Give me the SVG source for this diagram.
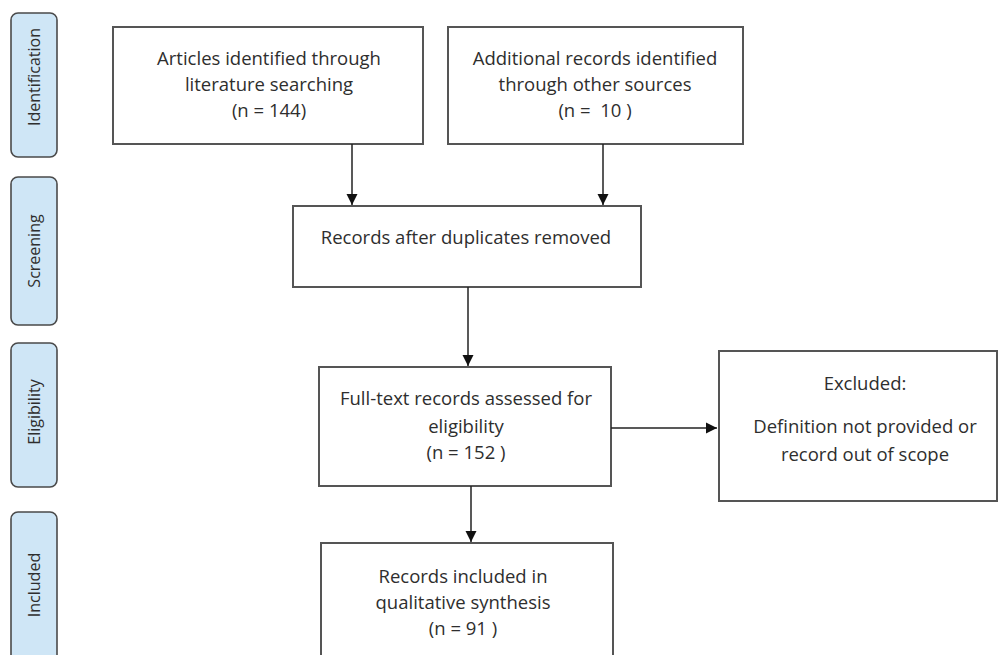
<svg xmlns="http://www.w3.org/2000/svg" width="998" height="655" viewBox="0 0 998 655">
<style>
.tab{fill:#cfe6f6;stroke:#4a4a4a;stroke-width:1.6}
.box{fill:#fff;stroke:#555;stroke-width:2}
.t{font-family:"Open Sans","Liberation Sans",sans-serif;font-size:18.5px;fill:#2e2e2e;text-anchor:middle;white-space:pre}
.tt{font-family:"Open Sans","Liberation Sans",sans-serif;font-size:16px;fill:#2e2e2e;text-anchor:middle}
.c{stroke:#222;stroke-width:1.5;fill:none}
</style>
<defs>
<marker id="ah" markerWidth="12" markerHeight="12" refX="11" refY="6" orient="auto" markerUnits="userSpaceOnUse">
<path d="M0,0.5 L11,6 L0,11.5 Z" fill="#111"/>
</marker>
</defs>
<rect width="998" height="655" fill="#fff"/>
<g id="tab-identification"><rect class="tab" x="11" y="13" width="46" height="144" rx="7"/><text class="tt" transform="translate(40,77) rotate(-90)">Identification</text></g>
<g id="tab-screening"><rect class="tab" x="11" y="177" width="46" height="148" rx="7"/><text class="tt" transform="translate(40,251) rotate(-90)">Screening</text></g>
<g id="tab-eligibility"><rect class="tab" x="11" y="343" width="46" height="144" rx="7"/><text class="tt" transform="translate(40,412) rotate(-90)">Eligibility</text></g>
<g id="tab-included"><rect class="tab" x="11" y="512" width="46" height="160" rx="7"/><text class="tt" transform="translate(40,585) rotate(-90)">Included</text></g>
<g id="n1"><rect class="box" x="113" y="27" width="310" height="117"/>
<text class="t" x="269" y="65">Articles identified through</text>
<text class="t" x="269" y="91">literature searching</text>
<text class="t" x="269" y="117">(n = 144)</text></g>
<g id="n2"><rect class="box" x="448" y="27" width="295" height="117"/>
<text class="t" x="595" y="65">Additional records identified</text>
<text class="t" x="595" y="91">through other sources</text>
<text class="t" x="595" y="117" xml:space="preserve">(n =  10 )</text></g>
<g id="n3"><rect class="box" x="293" y="206" width="348" height="81"/>
<text class="t" x="466" y="244">Records after duplicates removed</text></g>
<g id="n4"><rect class="box" x="319" y="367" width="292" height="119"/>
<text class="t" x="466" y="405">Full-text records assessed for</text>
<text class="t" x="466" y="433">eligibility</text>
<text class="t" x="466" y="459">(n = 152 )</text></g>
<g id="n5"><rect class="box" x="719" y="351" width="278" height="150"/>
<text class="t" x="865" y="390">Excluded:</text>
<text class="t" x="865" y="433">Definition not provided or</text>
<text class="t" x="865" y="461">record out of scope</text></g>
<g id="n6"><rect class="box" x="321" y="543" width="292" height="130"/>
<text class="t" x="463" y="583">Records included in</text>
<text class="t" x="463" y="609">qualitative synthesis</text>
<text class="t" x="463" y="635">(n = 91 )</text></g>
<g id="connectors">
<line class="c" x1="352" y1="144" x2="352" y2="205" marker-end="url(#ah)"/>
<line class="c" x1="603" y1="144" x2="603" y2="205" marker-end="url(#ah)"/>
<line class="c" x1="468" y1="287" x2="468" y2="366" marker-end="url(#ah)"/>
<line class="c" x1="611" y1="428" x2="717" y2="428" marker-end="url(#ah)"/>
<line class="c" x1="471" y1="486" x2="471" y2="542" marker-end="url(#ah)"/>
</g>
</svg>
